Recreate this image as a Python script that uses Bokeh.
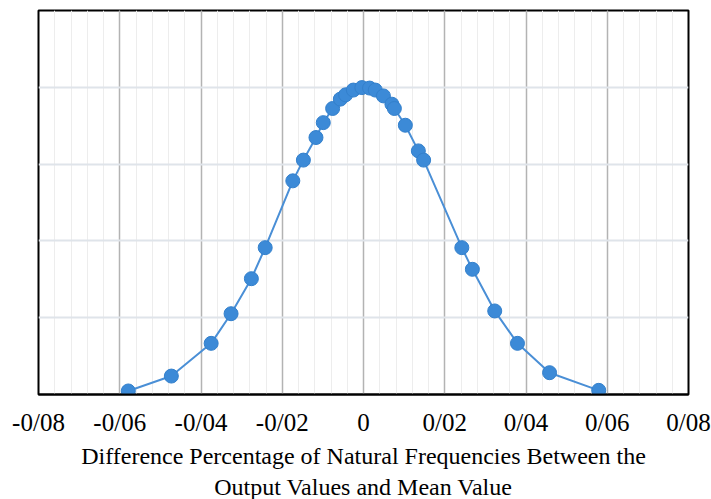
from bokeh.plotting import figure
from bokeh.models import FixedTicker, Range1d, Title
from bokeh.embed import file_html
from bokeh.resources import INLINE

# Difference percentage (x) and probability density (y) of the sampled outputs
diff_pct = [
    -0.0579, -0.0473, -0.0375, -0.0326, -0.0276, -0.0242, -0.0174, -0.0148,
    -0.0117, -0.0099, -0.0076, -0.0057, -0.0044, -0.0025, -0.0004,
    0.0015, 0.0029, 0.0049, 0.0070, 0.0076, 0.0103, 0.0135, 0.0148,
    0.0242, 0.0268, 0.0323, 0.0379, 0.0458, 0.0579,
]
density = [
    0.23, 1.20, 3.33, 5.26, 7.54, 9.56, 13.91, 15.26,
    16.73, 17.70, 18.62, 19.23, 19.51, 19.82, 19.98,
    19.95, 19.82, 19.44, 18.90, 18.62, 17.53, 15.86, 15.26,
    9.56, 8.15, 5.44, 3.33, 1.42, 0.27,
]

tick_values = [-0.08, -0.06, -0.04, -0.02, 0.0, 0.02, 0.04, 0.06, 0.08]
tick_labels = ["-0/08", "-0/06", "-0/04", "-0/02", "0", "0/02", "0/04", "0/06", "0/08"]
minor_values = [round(-0.08 + 0.004 * i, 3) for i in range(41)]
y_grid = [5, 10, 15, 20]
x_title = ["Difference Percentage of Natural Frequencies Between the",
           "Output Values and Mean Value"]

p = figure(
    width=711, height=499,
    output_backend="svg", toolbar_location=None,
    x_range=Range1d(-0.08, 0.08), y_range=Range1d(0, 25),
    min_border_left=38, min_border_right=23,
    min_border_top=10, min_border_bottom=105,
    background_fill_color="white", border_fill_color="white",
)

p.outline_line_color = "black"
p.outline_line_width = 2
p.outline_line_alpha = 1

# x axis
xa = p.xaxis[0]
xa.ticker = FixedTicker(ticks=tick_values, minor_ticks=minor_values)
xa.major_label_overrides = {v: s for v, s in zip(tick_values, tick_labels)}
xa.axis_line_color = "black"
xa.axis_line_width = 2
xa.major_tick_line_color = None
xa.minor_tick_line_color = None
xa.major_label_text_font = "Liberation Serif"
xa.major_label_text_font_size = "25px"
xa.major_label_text_color = "black"
xa.major_label_standoff = 8

# two-line axis title below the tick labels
for i, line in enumerate(x_title):
    p.add_layout(Title(text=line, align="center", text_font="Liberation Serif",
                       text_font_size="24px", text_font_style="normal",
                       text_color="black", standoff=5 if i == 0 else 0,
                       offset=0), "below")

# y axis hidden
p.yaxis.visible = False

# grids
p.xgrid.grid_line_color = "#b3b3b3"
p.xgrid.grid_line_width = 1.5
p.xgrid.minor_grid_line_color = "#ededed"
p.xgrid.minor_grid_line_width = 1
p.ygrid.ticker = FixedTicker(ticks=y_grid)
p.ygrid.grid_line_color = "#dfe4ea"
p.ygrid.grid_line_width = 2

# curve and markers
p.line(diff_pct, density, line_color="#4a8fd6", line_width=2)
p.scatter(diff_pct, density, size=14, fill_color="#3c8ad7",
          line_color="#3380cc", line_width=1)

open("out.html", "w").write(file_html(p, INLINE))
